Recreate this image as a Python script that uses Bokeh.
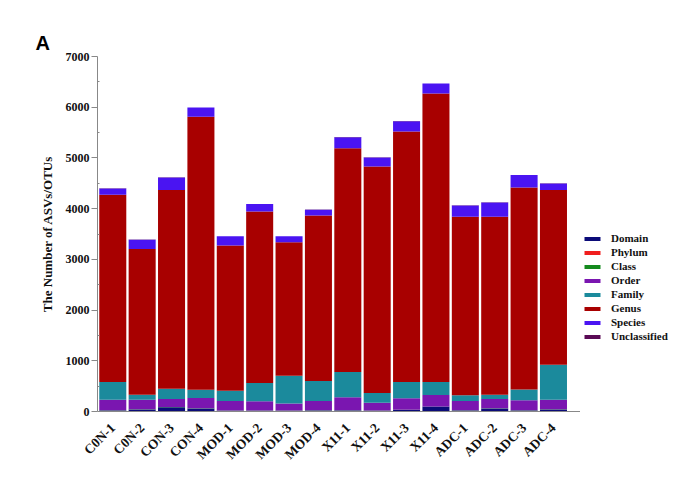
import math
from bokeh.plotting import figure
from bokeh.layouts import row
from bokeh.models import Range1d, FixedTicker, Legend, LegendItem, Title, ColumnDataSource
from bokeh.embed import file_html
from bokeh.resources import INLINE

samples = ["C0N-1", "C0N-2", "CON-3", "CON-4", "MOD-1", "MOD-2", "MOD-3", "MOD-4",
           "X11-1", "X11-2", "X11-3", "X11-4", "ADC-1", "ADC-2", "ADC-3", "ADC-4"]
levels = ["Domain", "Phylum", "Class", "Order", "Family", "Genus", "Species", "Unclassified"]

domain = [20, 40, 85, 60, 15, 15, 15, 20, 20, 15, 30, 98, 20, 60, 20, 40]
phylum = [1, 1, 1, 1, 1, 1, 1, 1, 1, 1, 1, 1, 1, 1, 1, 1]
klass = [2, 2, 2, 2, 2, 2, 2, 2, 2, 2, 2, 2, 2, 2, 2, 2]
order = [210, 190, 158, 202, 188, 182, 142, 183, 256, 156, 226, 223, 183, 183, 197, 190]
family = [347, 99, 204, 165, 204, 360, 545, 394, 498, 190, 321, 256, 112, 86, 216, 689]
genus = [3693, 2874, 3917, 5380, 2861, 3386, 2631, 3267, 4416, 4469, 4941, 5689, 3524, 3510, 3982, 3445]
species = [125, 183, 248, 183, 183, 145, 118, 112, 217, 176, 204, 197, 222, 281, 244, 130]
unclassified = [3, 3, 3, 3, 3, 3, 3, 3, 3, 3, 3, 3, 3, 3, 3, 3]

colors = ["#0b0b78", "#f01e1e", "#158a1e", "#7a16b0", "#1b8a9c", "#a80000", "#4a14f2", "#5a0a55"]

xs = list(range(len(samples)))
data = dict(x=xs, Domain=domain, Phylum=phylum, Class=klass, Order=order, Family=family,
            Genus=genus, Species=species, Unclassified=unclassified)
src = ColumnDataSource(data)

p = figure(width=580, height=490, x_range=Range1d(-0.52, 15.92), y_range=Range1d(0, 7000),
           output_backend="svg", toolbar_location=None,
           min_border_left=97, min_border_top=56, min_border_bottom=79, min_border_right=0)

p.vbar_stack(levels, x="x", width=0.92, color=colors, line_color=None, source=src)

p.xgrid.visible = False
p.ygrid.visible = False
p.outline_line_color = None

serif = "Liberation Serif"
ya = p.yaxis[0]
ya.ticker = FixedTicker(ticks=[0, 1000, 2000, 3000, 4000, 5000, 6000, 7000],
                        minor_ticks=[500, 1500, 2500, 3500, 4500, 5500, 6500])
ya.axis_label = "The Number of ASVs/OTUs"
ya.axis_label_text_font = serif
ya.axis_label_text_font_style = "bold"
ya.axis_label_text_font_size = "13px"
ya.axis_label_text_color = "#111111"
ya.axis_label_standoff = 8
ya.major_label_text_font = serif
ya.major_label_text_font_style = "bold"
ya.major_label_text_font_size = "12px"
ya.major_label_text_color = "#111111"
ya.axis_line_color = "#888888"
ya.major_tick_line_color = "#888888"
ya.minor_tick_line_color = "#888888"
ya.major_tick_out = 6
ya.major_tick_in = 0
ya.minor_tick_out = 0
ya.minor_tick_in = 2
ya.major_label_standoff = 2

xa = p.xaxis[0]
xa.ticker = FixedTicker(ticks=xs)
xa.major_label_overrides = {i: s for i, s in enumerate(samples)}
xa.major_label_orientation = math.pi / 4
xa.major_label_text_font = serif
xa.major_label_text_font_style = "bold"
xa.major_label_text_font_size = "13.5px"
xa.major_label_text_color = "#111111"
xa.axis_line_color = "#888888"
xa.major_tick_line_color = None
xa.minor_tick_line_color = None
xa.major_label_standoff = 8

title = Title(text="A", align="left", offset=-62, text_font="Liberation Sans",
              text_font_style="bold", text_font_size="20px", text_color="#000000", standoff=6)
p.add_layout(title, "above")

# legend panel: hidden copies of the stacked bars, only their legend is shown
q = figure(width=108, height=490, x_range=Range1d(-0.52, 15.92), y_range=Range1d(0, 7000),
           output_backend="svg", toolbar_location=None,
           min_border_left=0, min_border_right=0, min_border_top=0, min_border_bottom=0)
q.axis.visible = False
q.grid.visible = False
q.outline_line_color = None
rs = q.vbar_stack(levels, x="x", width=0.92, color=colors, line_color=None, source=src)
for r in rs:
    r.visible = False
items = [LegendItem(label=lv, renderers=[r]) for lv, r in zip(levels, rs)]
legend = Legend(items=items, location=(2, 68), background_fill_alpha=0,
                border_line_color=None, label_text_font=serif, label_text_font_style="bold",
                label_text_font_size="11px", label_text_color="#111111",
                glyph_width=20, glyph_height=5,
                label_height=14, spacing=0, padding=0, margin=0, label_standoff=9)
q.add_layout(legend, "center")

layout = row(p, q)
open("out.html", "w").write(file_html(layout, INLINE))
